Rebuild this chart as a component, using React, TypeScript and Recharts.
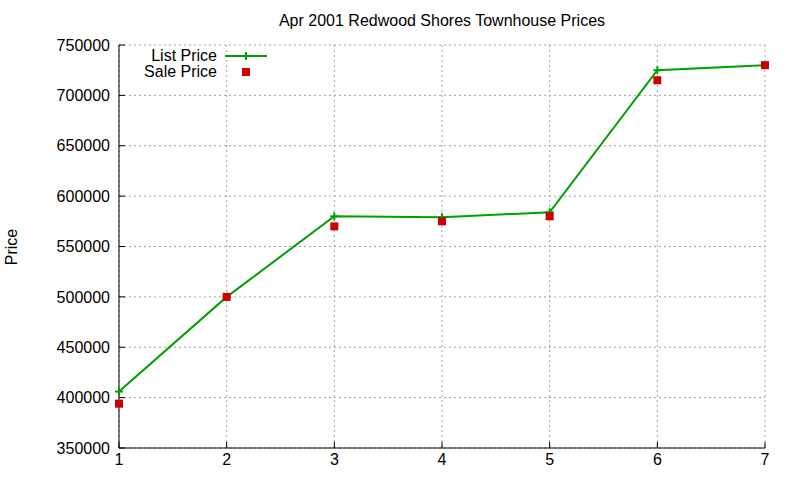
import { LineChart, Line, XAxis, YAxis, CartesianGrid } from 'recharts';

const days = [1, 2, 3, 4, 5, 6, 7];
const listPrice = [406000, 500000, 580000, 579000, 584000, 725000, 730000];
const salePrice = [394000, 500000, 570000, 575000, 580000, 715000, 730000];
const priceTicks = [350000, 400000, 450000, 500000, 550000, 600000, 650000, 700000, 750000];

const FONT = '"Liberation Sans", Arial, sans-serif';
const GREEN = '#00a000';
const RED = '#cc0000';

const data = days.map((d, i) => ({ x: d, list: listPrice[i], sale: salePrice[i] }));

function PlusDot(props: any) {
  const { cx, cy } = props;
  if (cx == null || cy == null) return null;
  return (
    <g stroke={GREEN} strokeWidth={2}>
      <line x1={cx - 4} y1={cy} x2={cx + 4} y2={cy} />
      <line x1={cx} y1={cy - 4} x2={cx} y2={cy + 4} />
    </g>
  );
}

function SquareDot(props: any) {
  const { cx, cy } = props;
  if (cx == null || cy == null) return null;
  return <rect x={cx - 4} y={cy - 4} width={8} height={8} fill={RED} />;
}

export default function App() {
  return (
    <div style={{ position: 'fixed', left: 0, top: 0, width: 800, height: 480, background: '#fff' }}>
      <LineChart
        width={800}
        height={480}
        data={data}
        margin={{ top: 45, right: 35, bottom: 0, left: 0 }}
        style={{ fontFamily: FONT }}
      >
        <text x={442} y={26} textAnchor="middle" fontSize={16} fill="#000">
          Apr 2001 Redwood Shores Townhouse Prices
        </text>
        <text x={17} y={247} textAnchor="middle" fontSize={16} fill="#000" transform="rotate(-90 17 247)">
          Price
        </text>
        {/* key */}
        <g fontSize={16} fill="#000">
          <text x={217} y={61} textAnchor="end">List Price</text>
          <line x1={225} y1={56} x2={267} y2={56} stroke={GREEN} strokeWidth={2} />
          <PlusDot cx={246} cy={56} />
          <text x={217} y={77} textAnchor="end">Sale Price</text>
          <SquareDot cx={246} cy={72} />
        </g>
        <CartesianGrid stroke="#a0a0a0" strokeDasharray="2 3" />
        <XAxis
          dataKey="x"
          type="number"
          domain={[1, 7]}
          ticks={days}
          height={32}
          stroke="#000"
          tickSize={-6}
          tickMargin={12}
          tick={{ fill: '#000', fontSize: 16 }}
          interval={0}
        />
        <XAxis
          xAxisId="top"
          dataKey="x"
          type="number"
          domain={[1, 7]}
          ticks={days}
          orientation="top"
          height={0}
          stroke="#000"
          tickSize={-6}
          tickFormatter={() => ''}
          interval={0}
        />
        <YAxis
          type="number"
          domain={[350000, 750000]}
          ticks={priceTicks}
          width={119}
          stroke="#000"
          tickSize={-6}
          tickMargin={15}
          tick={{ fill: '#000', fontSize: 16 }}
          interval={0}
        />
        <YAxis
          yAxisId="right"
          type="number"
          domain={[350000, 750000]}
          ticks={priceTicks}
          orientation="right"
          width={0}
          stroke="#000"
          tickSize={-6}
          tickFormatter={() => ''}
          interval={0}
        />
        <Line
          dataKey="list"
          name="List Price"
          type="linear"
          stroke={GREEN}
          strokeWidth={2}
          dot={<PlusDot />}
          activeDot={false}
          isAnimationActive={false}
        />
        <Line
          dataKey="sale"
          name="Sale Price"
          type="linear"
          stroke="none"
          strokeWidth={0}
          dot={<SquareDot />}
          activeDot={false}
          isAnimationActive={false}
        />
      </LineChart>
    </div>
  );
}
